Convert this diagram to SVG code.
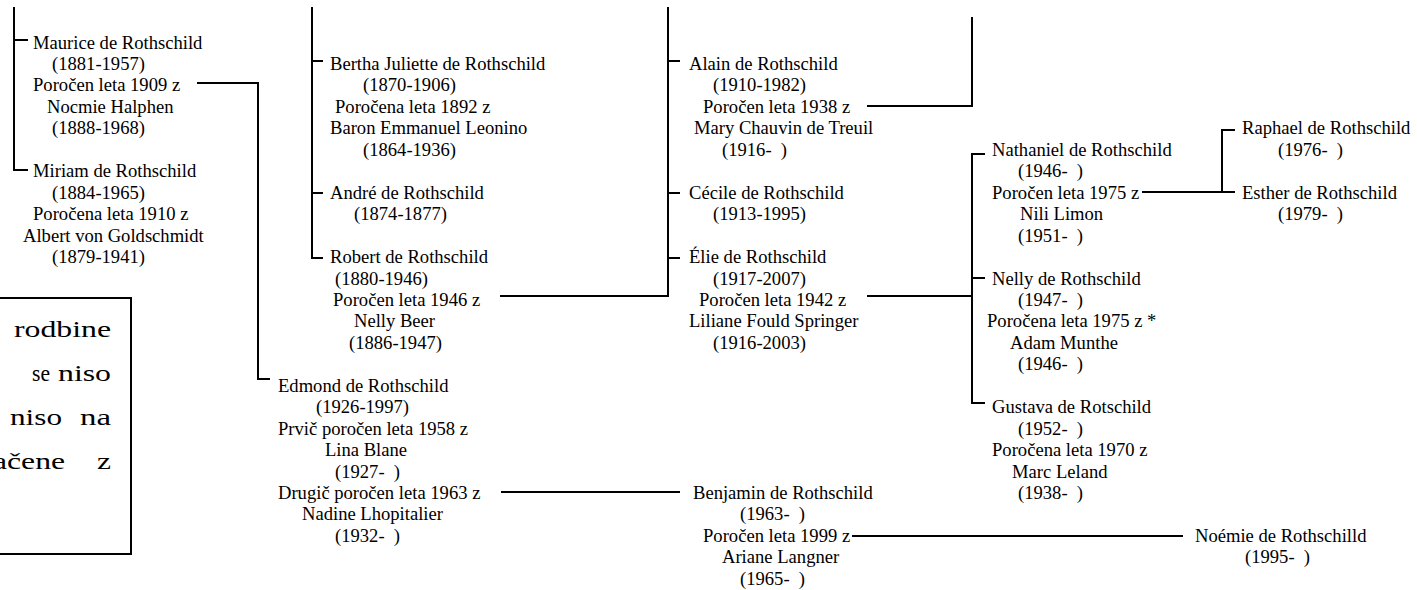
<svg xmlns="http://www.w3.org/2000/svg" width="1417" height="590" viewBox="0 0 1417 590">
  <style>
    text { font-family: "Liberation Serif", "Times New Roman", serif; font-size: 18.6px; fill: #000; white-space: pre; }
    .note { font-size: 23px; }
    .link { fill: none; stroke: #000; stroke-width: 2; }
  </style>
  <rect width="1417" height="590" fill="#fff"/>

  <!-- connectors -->
  <g id="connectors" class="link">
    <path class="link" d="M14,7 V170 H28 M14,40 H28"/>
    <path class="link" d="M197,83 H258 V379 H270"/>
    <path class="link" d="M312,7 V258 H323 M312,61 H323 M312,193 H323"/>
    <path class="link" d="M500,296 H668 V7 M668,61 H680 M668,193 H680 M668,258 H680"/>
    <path class="link" d="M867,106 H972 V17"/>
    <path class="link" d="M867,296 H972 M985,154 H972 V403 H985 M972,278 H985"/>
    <path class="link" d="M1142,192 H1235 M1222,192 V130 H1235"/>
    <path class="link" d="M501,492 H680"/>
    <path class="link" d="M852,536 H1183"/>
  </g>

  <!-- note box, partly outside the left edge -->
  <g id="note">
    <rect x="-10" y="298" width="141" height="256" class="link"/>
    <text class="note" x="14" y="337" textLength="97" lengthAdjust="spacingAndGlyphs">rodbine</text>
    <text class="note" x="32" y="381" textLength="18" lengthAdjust="spacingAndGlyphs">se</text>
    <text class="note" x="58" y="381" textLength="53" lengthAdjust="spacingAndGlyphs">niso</text>
    <text class="note" x="10" y="425" textLength="52" lengthAdjust="spacingAndGlyphs">niso</text>
    <text class="note" x="80" y="425" textLength="31" lengthAdjust="spacingAndGlyphs">na</text>
    <text class="note" x="-7" y="469" textLength="72" lengthAdjust="spacingAndGlyphs">ačene</text>
    <text class="note" x="97" y="469" textLength="14" lengthAdjust="spacingAndGlyphs">z</text>
  </g>

  <g id="maurice">
    <text><tspan x="33" y="48.5">Maurice de Rothschild</tspan><tspan x="52" y="70">(1881-1957)</tspan><tspan x="33" y="91.4">Poročen leta 1909 z</tspan><tspan x="47" y="112.9">Nocmie Halphen</tspan><tspan x="52" y="134.3">(1888-1968)</tspan></text>
  </g>
  <g id="miriam">
    <text><tspan x="33" y="177.2">Miriam de Rothschild</tspan><tspan x="52" y="198.7">(1884-1965)</tspan><tspan x="33" y="220.1">Poročena leta 1910 z</tspan><tspan x="23" y="241.6">Albert von Goldschmidt</tspan><tspan x="52" y="263">(1879-1941)</tspan></text>
  </g>

  <g id="bertha">
    <text><tspan x="330" y="70">Bertha Juliette de Rothschild</tspan><tspan x="363" y="91.4">(1870-1906)</tspan><tspan x="335" y="112.9">Poročena leta 1892 z</tspan><tspan x="330" y="134.3">Baron Emmanuel Leonino</tspan><tspan x="363" y="155.8">(1864-1936)</tspan></text>
  </g>
  <g id="andre">
    <text><tspan x="330" y="198.7">André de Rothschild</tspan><tspan x="354" y="220.1">(1874-1877)</tspan></text>
  </g>
  <g id="robert">
    <text><tspan x="330" y="263">Robert de Rothschild</tspan><tspan x="335" y="284.5">(1880-1946)</tspan><tspan x="333" y="305.9">Poročen leta 1946 z</tspan><tspan x="354" y="327.4">Nelly Beer</tspan><tspan x="349" y="348.8">(1886-1947)</tspan></text>
  </g>
  <g id="edmond">
    <text><tspan x="278" y="391.7">Edmond de Rothschild</tspan><tspan x="316" y="413.2">(1926-1997)</tspan><tspan x="278" y="434.6">Prvič poročen leta 1958 z</tspan><tspan x="325" y="456.1">Lina Blane</tspan><tspan x="335" y="477.5">(1927-  )</tspan><tspan x="278" y="499">Drugič poročen leta 1963 z</tspan><tspan x="302" y="520.4">Nadine Lhopitalier</tspan><tspan x="335" y="541.9">(1932-  )</tspan></text>
  </g>

  <g id="alain">
    <text><tspan x="689" y="70">Alain de Rothschild</tspan><tspan x="713" y="91.4">(1910-1982)</tspan><tspan x="703" y="112.9">Poročen leta 1938 z</tspan><tspan x="694" y="134.3">Mary Chauvin de Treuil</tspan><tspan x="722" y="155.8">(1916-  )</tspan></text>
  </g>
  <g id="cecile">
    <text><tspan x="689" y="198.7">Cécile de Rothschild</tspan><tspan x="713" y="220.1">(1913-1995)</tspan></text>
  </g>
  <g id="elie">
    <text><tspan x="689" y="263">Élie de Rothschild</tspan><tspan x="713" y="284.5">(1917-2007)</tspan><tspan x="699" y="305.9">Poročen leta 1942 z</tspan><tspan x="689" y="327.4">Liliane Fould Springer</tspan><tspan x="713" y="348.8">(1916-2003)</tspan></text>
  </g>
  <g id="benjamin">
    <text><tspan x="693" y="499">Benjamin de Rothschild</tspan><tspan x="740" y="520.4">(1963-  )</tspan><tspan x="703" y="541.9">Poročen leta 1999 z</tspan><tspan x="722" y="563.3">Ariane Langner</tspan><tspan x="740" y="584.8">(1965-  )</tspan></text>
  </g>

  <g id="nathaniel">
    <text><tspan x="992" y="155.8">Nathaniel de Rothschild</tspan><tspan x="1018" y="177.2">(1946-  )</tspan><tspan x="992" y="198.7">Poročen leta 1975 z</tspan><tspan x="1020" y="220.1">Nili Limon</tspan><tspan x="1018" y="241.6">(1951-  )</tspan></text>
  </g>
  <g id="nelly">
    <text><tspan x="992" y="284.5">Nelly de Rothschild</tspan><tspan x="1018" y="305.9">(1947-  )</tspan><tspan x="987" y="327.4">Poročena leta 1975 z *</tspan><tspan x="1010" y="348.8">Adam Munthe</tspan><tspan x="1018" y="370.3">(1946-  )</tspan></text>
  </g>
  <g id="gustava">
    <text><tspan x="992" y="413.2">Gustava de Rotschild</tspan><tspan x="1018" y="434.6">(1952-  )</tspan><tspan x="992" y="456.1">Poročena leta 1970 z</tspan><tspan x="1012" y="477.5">Marc Leland</tspan><tspan x="1018" y="499">(1938-  )</tspan></text>
  </g>

  <g id="raphael">
    <text><tspan x="1242" y="134.3">Raphael de Rothschild</tspan><tspan x="1278" y="155.8">(1976-  )</tspan></text>
  </g>
  <g id="esther">
    <text><tspan x="1242" y="198.7">Esther de Rothschild</tspan><tspan x="1278" y="220.1">(1979-  )</tspan></text>
  </g>
  <g id="noemie">
    <text><tspan x="1195" y="541.9">Noémie de Rothschilld</tspan><tspan x="1245" y="563.3">(1995-  )</tspan></text>
  </g>
</svg>
